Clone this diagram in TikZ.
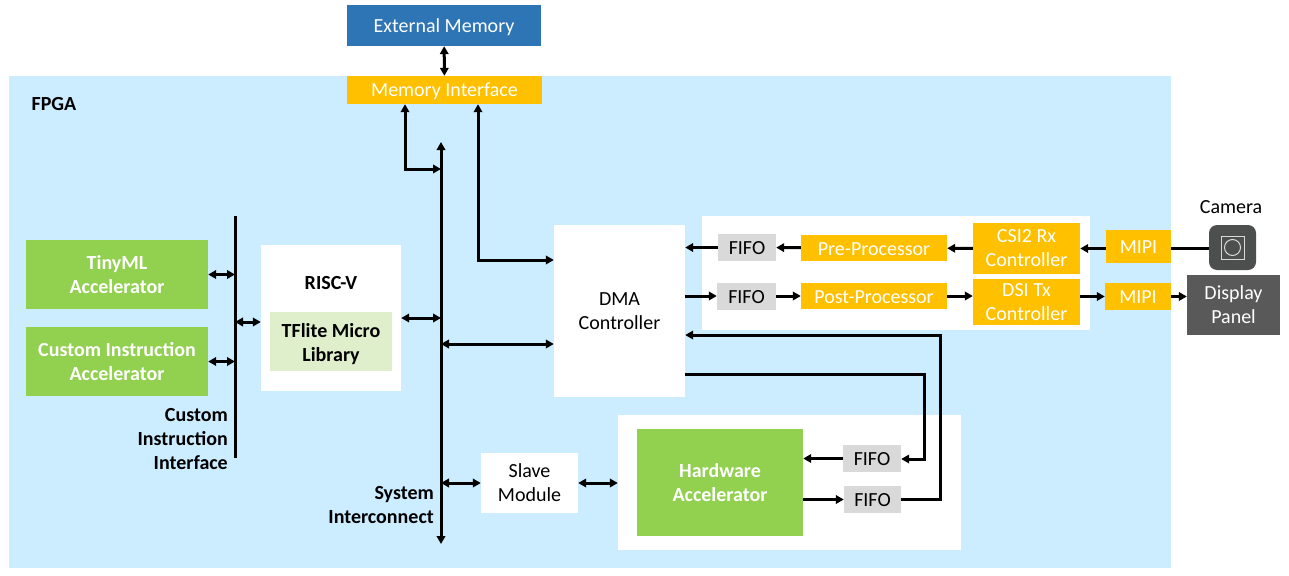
\documentclass[tikz,border=0pt]{standalone}
\usepackage{fontspec}
\setmainfont{Carlito}
\usepackage{xcolor}
\usetikzlibrary{arrows.meta}
\definecolor{fpgablue}{HTML}{CCECFF}
\definecolor{extblue}{HTML}{2E75B6}
\definecolor{ifcorange}{HTML}{FFC000}
\definecolor{accgreen}{HTML}{92D050}
\definecolor{libgreen}{HTML}{DFEFCB}
\definecolor{fifogray}{HTML}{D9D9D9}
\definecolor{panelgray}{HTML}{595959}
\definecolor{camgray}{HTML}{4D4F4F}

\begin{document}
\begin{tikzpicture}[
			x=1pt, y=-1pt,
			>={Triangle[length=8pt,width=8.5pt]},
			mybox/.style={inner sep=0pt, align=center, text=black, font=\fontsize{20}{24}\selectfont},
			oneline/.style={execute at begin node={\rule[-5pt]{0pt}{24pt}}},
			panel/.style={mybox, fill=white},
			orangebox/.style={mybox, fill=ifcorange, text=white},
			greenbox/.style={mybox, fill=accgreen, text=white, font=\fontsize{20}{24}\selectfont\bfseries},
			fifobox/.style={mybox, oneline, fill=fifogray, minimum height=27pt},
			darkbox/.style={mybox, fill=panelgray, text=white},
			mylabel/.style={inner sep=0pt, align=right, font=\fontsize{20}{24}\selectfont\bfseries},
			link/.style={line width=3pt},
			bus/.style={line width=3pt}
		]
		\useasboundingbox (0,0) rectangle (1289,575);
		\fill[fpgablue] (9,76) rectangle (1171,568);

		% white panels
		\node[panel, minimum width=140pt, minimum height=146pt] (riscpanel) at (331,318) {};
		\node[panel, minimum width=131pt, minimum height=172pt] (dma) at (619.5,311) {DMA\\Controller};
		\node[panel, minimum width=388pt, minimum height=114pt] (videopanel) at (896,273) {};
		\node[panel, minimum width=343pt, minimum height=135pt] (hwpanel) at (789.5,482.5) {};
		\node[panel, minimum width=97pt, minimum height=60pt] (slave) at (529.5,483) {Slave\\Module};

		% memory
		\node[mybox, oneline, fill=extblue, text=white, minimum width=194pt, minimum height=41pt] (extmem) at (444,25.5) {External Memory};
		\node[orangebox, oneline, minimum width=195pt, minimum height=28pt] (memif) at (444.5,90) {Memory Interface};

		% accelerators
		\node[greenbox, minimum width=182pt, minimum height=69pt] (tinyml) at (117,274.5) {TinyML\\Accelerator};
		\node[greenbox, minimum width=182pt, minimum height=69pt] (custom) at (117,361.5) {Custom Instruction\\Accelerator};
		\node[mybox, font=\fontsize{20}{24}\selectfont\bfseries, minimum width=140pt] (risc) at (331,283) {RISC-V};
		\node[mybox, fill=libgreen, minimum width=122pt, minimum height=59pt] (tfliteback) at (331,341.5) {};
		\node[mybox, font=\fontsize{20}{24}\selectfont\bfseries] (tflite) at (331,344) {TFlite Micro\\Library};
		\node[greenbox, minimum width=166pt, minimum height=107pt] (hwacc) at (720,482.5) {Hardware\\Accelerator};

		% video path
		\node[fifobox, minimum width=58pt] (fifoa) at (747,247.5) {FIFO};
		\node[fifobox, minimum width=59pt] (fifob) at (746.5,296) {FIFO};
		\node[orangebox, oneline, minimum width=146pt, minimum height=26pt] (pre) at (874,248) {Pre-Processor};
		\node[orangebox, oneline, minimum width=146pt, minimum height=26pt] (post) at (874,296) {Post-Processor};
		\node[orangebox, minimum width=107pt, minimum height=51pt] (csi) at (1026.5,248.5) {CSI2 Rx\\Controller};
		\node[orangebox, minimum width=107pt, minimum height=46pt] (dsi) at (1026.5,302) {DSI Tx\\Controller};
		\node[orangebox, oneline, minimum width=65pt, minimum height=33pt] (mipia) at (1138.5,246.5) {MIPI};
		\node[orangebox, oneline, minimum width=66pt, minimum height=27pt] (mipib) at (1138,296.5) {MIPI};
		\node[darkbox, minimum width=93pt, minimum height=60pt] (display) at (1233.5,305) {Display\\Panel};

		% camera
		\node[mybox, fill=camgray, rounded corners=8pt, minimum width=47pt, minimum height=45pt] (camera) at (1232.5,247.5) {};
		\node[draw=fifogray, line width=1pt, inner sep=0pt, minimum width=23pt, minimum height=23pt] (lens) at (camera) {};
		\node[draw=fifogray, line width=1pt, circle, inner sep=0pt, minimum size=16pt] (lensring) at (camera) {};
		\node[mybox] (camlabel) at (1231,207) {Camera};

		% hw fifos
		\node[fifobox, minimum width=58pt] (fifoc) at (872,458.5) {FIFO};
		\node[fifobox, minimum width=57pt] (fifod) at (872.5,499.5) {FIFO};

		% labels
		\node[mylabel] (fpga) at (54,104) {FPGA};
		\node[mylabel, anchor=north east] (ciflabel) at (228,408) {Custom\\Instruction\\Interface};
		\node[mylabel, anchor=north east] (syslabel) at (434,486) {System\\Interconnect};

		% buses
		\coordinate (ciftop) at (235,216);
		\coordinate (cifbot) at (235,458);
		\coordinate (systop) at (441,142);
		\coordinate (sysbot) at (441,544);
		\draw[bus] (ciftop) -- (cifbot);
		\draw[<->, bus] (systop) -- (sysbot);

		% connectors
		\draw[<->, link] (extmem) -- (memif);
		\draw[<->, link] ([xshift=-39.5pt]memif.south) |- (441,169);
		\draw[<->, link] ([xshift=33.5pt]memif.south) |- (dma.west |- 0,260);
		\draw[<->, link] (tinyml.east) -- (tinyml.east -| ciftop);
		\draw[<->, link] (custom.east) -- (custom.east -| ciftop);
		\draw[<->, link] (235,322) -- (riscpanel.west |- 0,322);
		\draw[<->, link] (riscpanel.east) -- (riscpanel.east -| systop);
		\draw[<->, link] (441,344) -- (dma.west |- 0,344);
		\draw[<->, link] (slave.west) -- (slave.west -| sysbot);
		\draw[<->, link] (slave.east) -- (hwpanel.west |- slave.east);

		\draw[->, link] (fifoa) -- (dma.east |- fifoa);
		\draw[->, link] (pre) -- (fifoa);
		\draw[->, link] (csi) -- (pre);
		\draw[->, link] (mipia.west |- csi) -- (csi);
		\draw[link] (mipia.east |- csi) -- (camera.west |- csi);

		\draw[->, link] (dma.east |- fifob) -- (fifob);
		\draw[->, link] (fifob) -- (post);
		\draw[->, link] (post) -- (dsi.west |- post);
		\draw[->, link] (dsi.east |- mipib) -- (mipib);
		\draw[->, link] (mipib) -- (display.west |- mipib);

		\draw[->, link] (dma.east |- 0,374) -| (924,459) -- (fifoc.east |- 0,459);
		\draw[->, link] (fifod.east) -| (940,335) -- (dma.east |- 0,335);
		\draw[->, link] (fifoc) -- (hwacc.east |- fifoc);
		\draw[->, link] (hwacc.east |- fifod) -- (fifod);
	\end{tikzpicture}
\end{document}
